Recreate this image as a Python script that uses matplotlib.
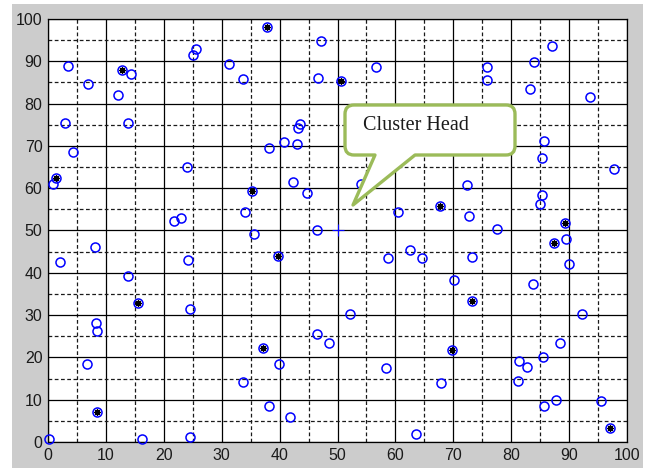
import numpy as np
import matplotlib
matplotlib.use('Agg')
import matplotlib.pyplot as plt
import matplotlib.patches as patches
from matplotlib.path import Path

# all sensor nodes (cluster heads excluded, they are listed below)
node_x = [3.4, 6.9, 12.1, 2.9, 13.8, 4.4, 14.3, 25.1, 25.6,
          47.2, 31.3, 33.6, 46.7, 56.6, 43.5, 43.2, 40.8, 43.0, 38.2,
          87.0, 84.0, 75.8, 75.9, 83.2, 93.6, 85.7, 85.4,
          24.0, 0.8, 21.8, 23.0, 8.2, 2.0, 24.1, 13.8, 24.5,
          8.3, 8.5, 6.7, 0.1, 16.2, 24.6,
          42.3, 44.7, 34.0, 35.6, 46.5, 54.1, 60.5, 58.7, 62.5, 64.6, 52.2,
          97.8, 72.3, 72.7, 77.5, 85.4, 85.0, 89.5, 89.9, 73.2, 70.1, 83.8,
          39.9, 33.7, 38.2, 41.8, 46.4, 48.5, 58.4, 63.5, 67.9,
          92.3, 88.5, 85.5, 81.4, 82.7, 81.2, 87.7, 85.6, 95.5]
node_y = [88.8, 84.6, 82.0, 75.3, 75.3, 68.6, 86.9, 91.6, 92.8,
          94.8, 89.3, 85.8, 86.1, 88.7, 75.1, 74.3, 71.0, 70.4, 69.6,
          93.7, 89.9, 88.7, 85.6, 83.5, 81.5, 71.2, 67.2,
          65.1, 60.9, 52.2, 52.9, 46.2, 42.6, 43.0, 39.3, 31.4,
          28.2, 26.3, 18.4, 0.7, 0.6, 1.3,
          61.4, 58.8, 54.4, 49.1, 50.0, 60.9, 54.4, 43.6, 45.4, 43.6, 30.2,
          64.5, 60.8, 53.4, 50.3, 58.4, 56.2, 48.1, 42.1, 43.8, 38.3, 37.4,
          18.4, 14.1, 8.5, 6.0, 25.5, 23.3, 17.6, 1.8, 13.9,
          30.2, 23.5, 20.2, 19.1, 17.8, 14.4, 9.9, 8.6, 9.8]

# cluster heads
ch_x = [12.8, 37.8, 50.6, 1.3, 15.6, 8.5, 35.2, 39.8,
        67.7, 89.3, 87.4, 73.2, 37.2, 69.7, 97.0]
ch_y = [87.9, 98.0, 85.4, 62.3, 32.8, 7.2, 59.3, 44.0,
        55.7, 51.8, 47.1, 33.3, 22.3, 21.7, 3.4]

# base station
sink_x = [50]
sink_y = [50]

ticks = np.arange(0, 101, 10)
minor_ticks = np.arange(5, 100, 10)

W, H, DPI = 649, 468, 100
fig = plt.figure(figsize=(W / DPI, H / DPI), dpi=DPI, facecolor='white')

# grey MATLAB-like figure panel
fig.patches.append(patches.Rectangle(
    (12 / W, 0), (643 - 12) / W, (464) / H,
    transform=fig.transFigure, facecolor='#cccccc', edgecolor='none', zorder=-10))

ax = fig.add_axes([48 / W, (H - 442) / H, 579 / W, 423 / H])
ax.set_facecolor('white')
ax.set_xlim(0, 100)
ax.set_ylim(0, 100)
ax.set_xticks(ticks)
ax.set_yticks(ticks)
ax.set_xticks(minor_ticks, minor=True)
ax.set_yticks(minor_ticks, minor=True)

# grid: solid at 10s, dashed at 5s
ax.grid(True, which='major', color='black', linestyle='-', linewidth=0.9)
ax.grid(True, which='minor', color='#1a1a1a', linestyle=(0, (3, 2)), linewidth=0.9)
ax.set_axisbelow(True)

ax.tick_params(which='both', direction='in', length=0, labelsize=11.5,
               colors='#1a1a1a', pad=4)
for lab in ax.get_xticklabels() + ax.get_yticklabels():
    lab.set_family('Liberation Sans')
for s in ax.spines.values():
    s.set_color('black')
    s.set_linewidth(0.9)

# nodes
all_x = node_x + ch_x
all_y = node_y + ch_y
ax.plot(all_x, all_y, 'o', markerfacecolor='none', markeredgecolor='#0000ff',
        markersize=6.5, markeredgewidth=1.1, clip_on=False, zorder=3)
ax.plot(ch_x, ch_y, linestyle='none', marker=(8, 2, 0), color='black',
        markersize=4.5, markeredgewidth=0.9, clip_on=False, zorder=4)
ax.plot(sink_x, sink_y, '+', color='#0000ff', markersize=8,
        markeredgewidth=0.8, zorder=4)

# speech bubble callout (figure inches)
L, R = 345 / DPI, 515 / DPI
T, B = (H - 105) / DPI, (H - 155) / DPI
r = 0.09
b1, b2 = 375 / DPI, 415 / DPI
tip = (353 / DPI, (H - 205) / DPI)
verts = [(L + r, T), (R - r, T), (R, T), (R, T - r), (R, B + r), (R, B), (R - r, B),
         (b2, B), tip, (b1, B), (L + r, B), (L, B), (L, B + r), (L, T - r), (L, T),
         (L + r, T), (L + r, T)]
codes = [Path.MOVETO, Path.LINETO, Path.CURVE3, Path.CURVE3, Path.LINETO,
         Path.CURVE3, Path.CURVE3, Path.LINETO, Path.LINETO, Path.LINETO,
         Path.LINETO, Path.CURVE3, Path.CURVE3, Path.LINETO, Path.CURVE3,
         Path.CURVE3, Path.CLOSEPOLY]
bubble = patches.PathPatch(Path(verts, codes), transform=fig.dpi_scale_trans,
                           facecolor='white', edgecolor='#9bbb59', linewidth=2.4,
                           joinstyle='round', zorder=10)
fig.add_artist(bubble)
fig.text(363 / DPI, (H - 126) / DPI, 'Cluster Head', transform=fig.dpi_scale_trans,
         fontsize=14.5, family='Liberation Serif', color='#1a1a1a',
         ha='left', va='center', zorder=11)

plt.savefig('out.png', dpi=DPI, facecolor='white')
plt.close()
